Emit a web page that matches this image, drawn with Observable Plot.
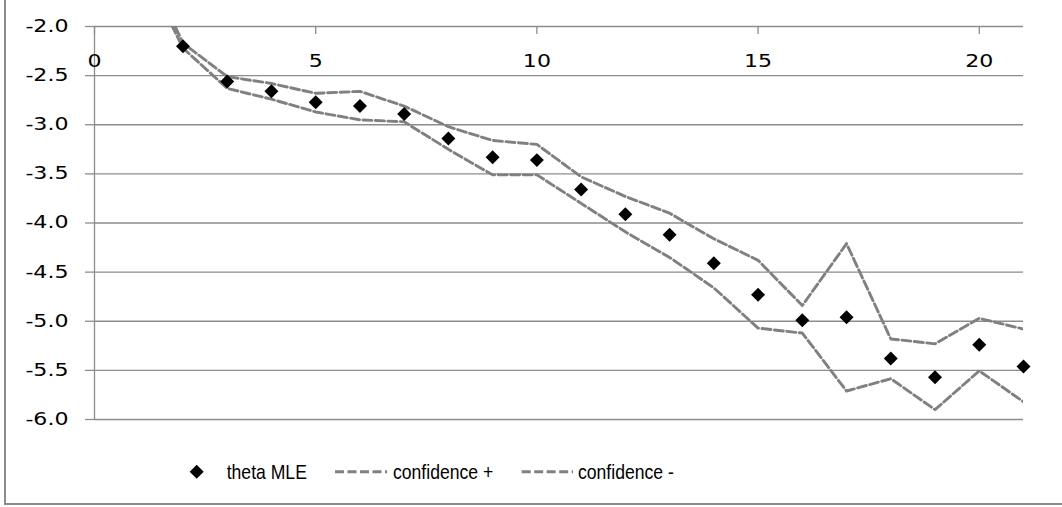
<!DOCTYPE html>
<html>
<head>
<meta charset="utf-8">
<script src="https://cdn.jsdelivr.net/npm/d3@7"></script>
<script src="https://cdn.jsdelivr.net/npm/@observablehq/plot@0.6"></script>
<style>
  html, body { margin: 0; padding: 0; background: #fff; }
  #wrap { position: relative; width: 1062px; height: 507px; overflow: hidden; }
  #frame { position: absolute; left: 4px; top: -10px; width: 1100px; height: 515px;
           border-left: 2px solid #8c8c8c; border-bottom: 2px solid #8c8c8c; box-sizing: border-box; }
  #chart svg, #legend svg { display: block; }
  #chart, #legend { position: relative; }
</style>
</head>
<body>
<div id="wrap">
  <div id="frame"></div>
  <div id="chart"></div>
  <div id="legend"></div>
</div>
<script>
// ---- data ----
const xsTheta = [2, 3, 4, 5, 6, 7, 8, 9, 10, 11, 12, 13, 14, 15, 16, 17, 18, 19, 20, 21];
const thetaMLE = [-2.20, -2.56, -2.66, -2.77, -2.81, -2.89, -3.14, -3.33, -3.36, -3.66,
                  -3.91, -4.12, -4.41, -4.73, -4.99, -4.96, -5.38, -5.57, -5.24, -5.46];
const xsConf = [1, 2, 3, 4, 5, 6, 7, 8, 9, 10, 11, 12, 13, 14, 15, 16, 17, 18, 19, 20, 21];
const confPlus = [-1.2, -2.17, -2.51, -2.58, -2.68, -2.66, -2.81, -3.02, -3.16, -3.20, -3.53,
                  -3.73, -3.90, -4.16, -4.38, -4.84, -4.21, -5.18, -5.23, -4.97, -5.08];
const confMinus = [-1.3, -2.22, -2.63, -2.74, -2.87, -2.95, -2.97, -3.25, -3.51, -3.51, -3.80,
                   -4.09, -4.35, -4.66, -5.07, -5.12, -5.71, -5.585, -5.90, -5.505, -5.82];
const xTicks = [0, 5, 10, 15, 20];
const yTicks = [-2.0, -2.5, -3.0, -3.5, -4.0, -4.5, -5.0, -5.5, -6.0];
const seriesNames = ["theta MLE", "confidence +", "confidence -"];

const theta = xsTheta.map((x, i) => ({x, y: thetaMLE[i]}));
const cPlus = xsConf.map((x, i) => ({x, y: confPlus[i]}));
const cMinus = xsConf.map((x, i) => ({x, y: confMinus[i]}));

const gridColor = "#8c8c8c";
const dashColor = "#808080";
const dash = "9,3.5";
const dashW = 2.9;

const plot = Plot.plot({
  width: 1062,
  height: 440,
  marginLeft: 94,
  marginRight: 39,
  marginTop: 26,
  marginBottom: 21,
  style: {fontFamily: "DejaVu Sans", fontSize: "17px", color: "#000", background: "transparent"},
  x: {domain: [0, 21]},
  y: {domain: [-6, -2]},
  marks: [
    Plot.gridY(yTicks, {stroke: gridColor, strokeOpacity: 1, strokeWidth: 1.3}),
    Plot.ruleX([0], {stroke: gridColor, strokeWidth: 1.3}),
    Plot.axisY(yTicks, {anchor: "left", tickSize: 9, tickPadding: 17, stroke: gridColor, strokeWidth: 1.3,
      tickFormat: d => d.toFixed(1), fill: "#000", label: null}),
    Plot.axisX(xTicks, {anchor: "top", tickSize: -7, tickPadding: -33, stroke: gridColor, strokeWidth: 1.3,
      tickFormat: d => String(d), fill: "#000", label: null}),
    Plot.line(cPlus, {x: "x", y: "y", stroke: dashColor, strokeWidth: dashW, strokeDasharray: dash, clip: true}),
    Plot.line(cMinus, {x: "x", y: "y", stroke: dashColor, strokeWidth: dashW, strokeDasharray: dash, clip: true}),
    Plot.dot(theta, {x: "x", y: "y", symbol: "diamond2", r: 6.3, fill: "#000", stroke: null})
  ]
});
document.getElementById("chart").appendChild(plot);

// stretch tick labels horizontally like the reference (scale about each label's anchor)
plot.querySelectorAll('g[aria-label$="tick label"] text').forEach(t => {
  const bb = t.getBBox();
  const anchor = getComputedStyle(t).textAnchor;
  const ax = anchor === "end" ? bb.x + bb.width : anchor === "middle" ? bb.x + bb.width / 2 : bb.x;
  const tr = t.getAttribute("transform") || "";
  t.setAttribute("transform", `${tr} translate(${ax},0) scale(1.3,1) translate(${-ax},0)`);
});

// ---- legend ----
const lg = d3.select("#legend").append("svg").attr("width", 1062).attr("height", 67);
const ly = 31.7;
const font = "'Liberation Sans Narrow', 'Liberation Sans', sans-serif";
function legendText(x, name) {
  lg.append("text").attr("x", 0).attr("y", 0).text(name)
    .attr("transform", `translate(${x},${ly + 7}) scale(0.88,1)`)
    .attr("font-family", font).attr("font-size", 20).attr("fill", "#000");
}
lg.append("path")
  .attr("d", d3.symbol(d3.symbolDiamond2, Math.PI * 6.3 * 6.3)())
  .attr("transform", `translate(196.7,${ly})`)
  .attr("fill", "#000");
legendText(226.7, seriesNames[0]);
[[335, 387, 393, seriesNames[1]], [521.7, 573, 578, seriesNames[2]]].forEach(([a, b, tx, name]) => {
  lg.append("line").attr("x1", a).attr("x2", b).attr("y1", ly).attr("y2", ly)
    .attr("stroke", dashColor).attr("stroke-width", dashW).attr("stroke-dasharray", dash);
  legendText(tx, name);
});
</script>
</body>
</html>
